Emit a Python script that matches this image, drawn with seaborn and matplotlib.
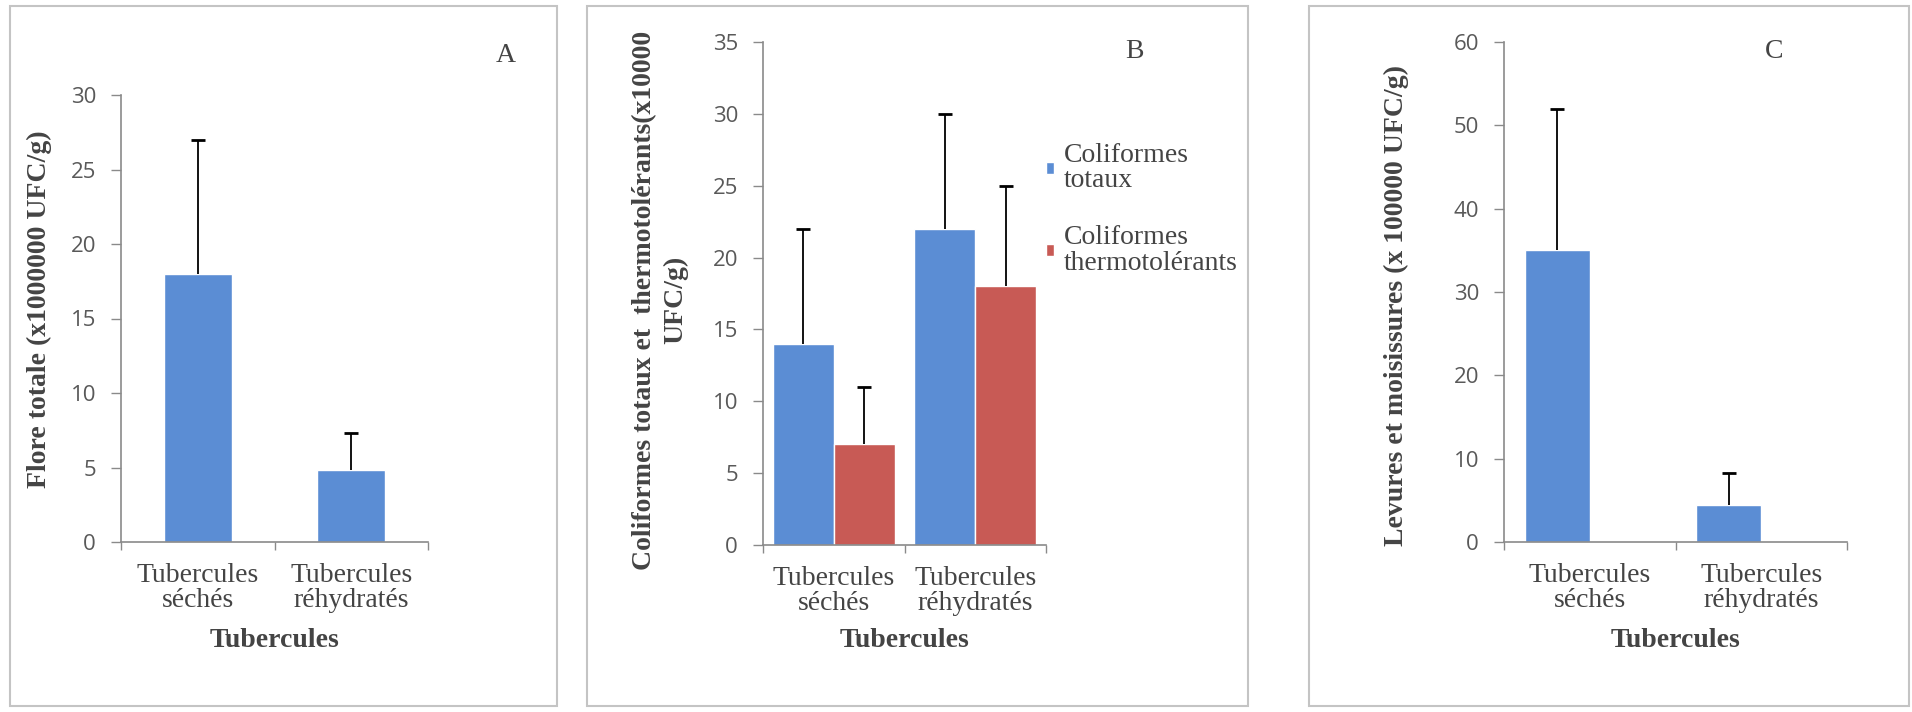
import matplotlib
matplotlib.use("Agg")
import matplotlib.pyplot as plt
import pandas as pd
import seaborn as sns
from matplotlib.patches import Rectangle

# --- data ------------------------------------------------------------------
categories = ["Tubercules\nséchés", "Tubercules\nréhydratés"]

flore_totale = [18, 4.8]
flore_totale_err = [9, 2.5]

coli_totaux = [14, 22]
coli_totaux_err = [8, 8]
coli_thermo = [7, 18]
coli_thermo_err = [4, 7]
series_b = ["Coliformes\ntotaux", "Coliformes\nthermotolérants"]

levures = [35, 4.5]
levures_err = [17, 3.8]
# panel C was made with an empty second series, which shifts the bars left
empty_series = [0, 0]

# --- style --------------------------------------------------------------------
BLUE = "#5B8DD4"
RED = "#C85A55"
AXIS_GREY = "#8a8a8a"
TEXT = "#444444"
SERIF = ["Liberation Serif", "DejaVu Serif"]
SANS = ["Open Sans", "DejaVu Sans"]
FS = 20

sns.set_style("white")
plt.rcParams["font.family"] = SERIF

W, H = 1912, 712
fig = plt.figure(figsize=(W / 100, H / 100), dpi=100)


def px_axes(left, top, right, bottom):
    return fig.add_axes([left / W, 1 - bottom / H, (right - left) / W, (bottom - top) / H])


def add_errorbars(ax, errs_per_series):
    # plus-only error bars, cap only at the top
    for container, errs in zip(ax.containers, errs_per_series):
        for bar, e in zip(container, errs):
            x = bar.get_x() + bar.get_width() / 2
            _, caps, _ = ax.errorbar(x, bar.get_height(), yerr=[[0], [e]], fmt="none",
                                     ecolor="black", elinewidth=1.3, capsize=5,
                                     capthick=2, zorder=3)
            caps[0].set_visible(False)


def style_axes(ax, ymax, step, box, ylabel, ylabel_xy, linespacing=1.2):
    left, top, right, bottom = box
    ax.set_ylim(0, ymax)
    ax.set_yticks(range(0, ymax + 1, step))
    ax.set_xlim(-0.5, 1.5)
    sns.despine(ax=ax)
    for side in ("left", "bottom"):
        ax.spines[side].set_color(AXIS_GREY)
        ax.spines[side].set_linewidth(1.2)
    ax.set_xticks([-0.5, 0.5, 1.5], minor=True)
    ax.tick_params(axis="x", which="minor", length=6, width=1, color=AXIS_GREY, direction="out", bottom=True)
    ax.tick_params(axis="x", which="major", length=0, pad=15, labelsize=FS, labelcolor=TEXT)
    ax.tick_params(axis="y", length=7, width=1, color=AXIS_GREY, direction="out", left=True, pad=11,
                   labelsize=16, labelcolor="#595959", labelfontfamily=SANS)
    for t in ax.get_xticklabels():
        t.set_linespacing(1.02)
        t.set_family(SERIF)
    ax.set_xlabel("Tubercules", fontsize=FS, fontweight="bold", color=TEXT)
    ax.xaxis.set_label_coords(0.5, (bottom - 628) / (bottom - top))
    ax.set_ylabel(ylabel, fontsize=FS, fontweight="bold", color=TEXT, linespacing=linespacing)
    ax.yaxis.label.set_va("center")
    lx, ly = ylabel_xy
    ax.yaxis.set_label_coords((lx - left) / (right - left), (bottom - ly) / (bottom - top))
    ax.grid(False)


# panel frames
for x0, x1 in [(10, 557), (587, 1248), (1309, 1909)]:
    fig.patches.append(Rectangle((x0 / W, 1 - 706 / H), (x1 - x0) / W, 700 / H,
                                 transform=fig.transFigure, fill=False,
                                 edgecolor="#c4c4c4", linewidth=1.5))

# --- A: flore totale -----------------------------------------------------------
box_a = (121, 95, 428, 542)
ax_a = px_axes(*box_a)
df_a = pd.DataFrame({"cat": categories, "val": flore_totale})
sns.barplot(data=df_a, x="cat", y="val", color=BLUE, saturation=1, width=0.44,
            errorbar=None, ax=ax_a)
add_errorbars(ax_a, [flore_totale_err])
style_axes(ax_a, 30, 5, box_a, "Flore totale (x1000000 UFC/g)", (39, 309))

# --- B: coliformes -------------------------------------------------------------
box_b = (763, 42, 1046, 545)
ax_b = px_axes(*box_b)
df_b = pd.DataFrame({
    "cat": categories * 2,
    "serie": [series_b[0]] * 2 + [series_b[1]] * 2,
    "val": coli_totaux + coli_thermo,
})
sns.barplot(data=df_b, x="cat", y="val", hue="serie", hue_order=series_b,
            palette=[BLUE, RED], saturation=1, width=0.86, errorbar=None,
            legend=False, ax=ax_b)
add_errorbars(ax_b, [coli_totaux_err, coli_thermo_err])
style_axes(ax_b, 35, 5, box_b, "Coliformes totaux et  thermotolérants(x10000\nUFC/g)",
           (660, 300), linespacing=1.3)
ax_b.legend(ax_b.containers, series_b, loc="upper left",
            bbox_to_anchor=(1046 / W, 1 - 143 / H), bbox_transform=fig.transFigure,
            frameon=False, fontsize=FS, labelcolor=TEXT, handlelength=0.3, handleheight=0.3,
            handletextpad=0.35, labelspacing=1.15, borderpad=0, borderaxespad=0)
for t in ax_b.get_legend().get_texts():
    t.set_linespacing(1.02)

# --- C: levures et moisissures -----------------------------------------------------
box_c = (1504, 42, 1847, 542)
ax_c = px_axes(*box_c)
df_c = pd.DataFrame({
    "cat": categories * 2,
    "serie": ["levures"] * 2 + ["vide"] * 2,
    "val": levures + empty_series,
})
sns.barplot(data=df_c, x="cat", y="val", hue="serie", hue_order=["levures", "vide"],
            palette={"levures": BLUE, "vide": RED}, saturation=1, width=0.76,
            errorbar=None, legend=False, ax=ax_c)
add_errorbars(ax_c, [levures_err])
style_axes(ax_c, 60, 10, box_c, "Levures et moisissures (x 100000 UFC/g)", (1396, 306))

# panel letters
for letter, (x, y) in zip("ABC", [(506, 55), (1134, 52), (1774, 51)]):
    fig.text(x / W, 1 - y / H, letter, ha="center", va="center", fontsize=FS, color=TEXT)

fig.savefig("out.png", dpi=100)
